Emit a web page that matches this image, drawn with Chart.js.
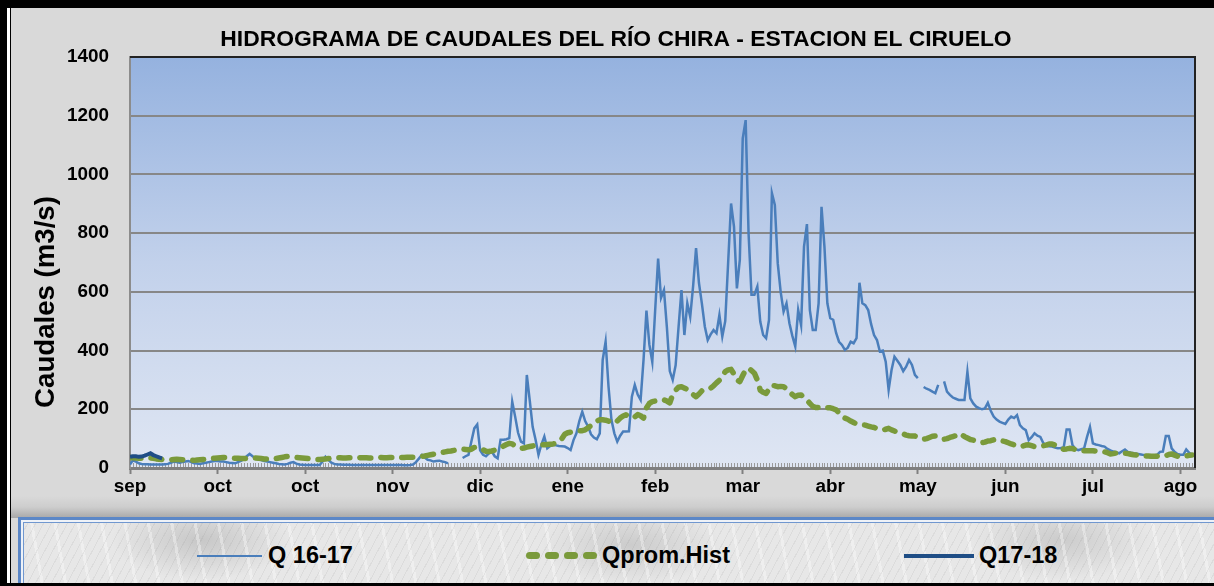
<!DOCTYPE html>
<html><head><meta charset="utf-8">
<script src="https://cdn.jsdelivr.net/npm/chart.js@4.4.1/dist/chart.umd.min.js"></script>
<style>
html,body{margin:0;padding:0;background:#000;width:1214px;height:586px;overflow:hidden;position:relative;font-family:'Liberation Sans Narrow','Liberation Sans',Arial,sans-serif;}
#white{position:absolute;left:7px;top:8px;width:4px;bottom:0;background:#fff;}
#panel{position:absolute;left:10px;top:8px;right:0;bottom:0;background:#d9d9d9;border-left:1px solid #000;}
#shadow{position:absolute;left:11px;right:0;top:496px;height:22px;background:linear-gradient(#d9d9d9,#cdcdcd 50%,#a8a8a8);}
#legend{position:absolute;left:18px;top:517px;width:1220px;height:90px;box-sizing:border-box;border:3px solid #5b87c7;
 box-shadow:inset 0 0 0 2px #eef2f8, inset 0 0 0 3px #7097cf;
 background:
 repeating-linear-gradient(118deg, rgba(120,120,120,0.10) 0 1px, rgba(255,255,255,0) 1px 7px),
 repeating-linear-gradient(80deg, rgba(255,255,255,0.35) 0 3px, rgba(255,255,255,0) 3px 23px),
 radial-gradient(ellipse 90px 40px at 180px 20px, rgba(140,140,140,.35), rgba(0,0,0,0)),
 radial-gradient(ellipse 90px 40px at 610px 25px, rgba(140,140,140,.30), rgba(0,0,0,0)),
 radial-gradient(ellipse 90px 40px at 1040px 20px, rgba(140,140,140,.30), rgba(0,0,0,0)),
 #e7e7e7;}
#bottomline{position:absolute;left:0;right:0;top:583px;height:3px;background:#000;}
canvas{position:absolute;left:0;top:0;}
.lg{position:absolute;font-weight:bold;color:#000;white-space:nowrap;line-height:1;}
.sm{position:absolute;}
.dash{position:absolute;top:552px;width:14px;height:7px;border-radius:3.5px;background:#7a9a3b;}
</style></head>
<body>
<div id="white"></div>
<div id="panel"></div>
<div id="shadow"></div>
<div id="legend"></div>
<div class="sm" style="left:197px;top:555px;width:65px;height:2px;background:#4a7ebb"></div>
<span class="lg" id="l1" style="left:268px;">Q 16-17</span>
<div class="dash" style="left:526px"></div>
<div class="dash" style="left:545px"></div>
<div class="dash" style="left:564px"></div>
<div class="dash" style="left:583px"></div>
<span class="lg" id="l2" style="left:602px;">Qprom.Hist</span>
<div class="sm" style="left:904px;top:554px;width:70px;height:4px;background:#1f4e86"></div>
<span class="lg" id="l3" style="left:979px;">Q17-18</span>
<div id="bottomline"></div>
<canvas id="c" width="1214" height="515"></canvas>
<script>
const tickLabels = ['sep','oct','oct','nov','dic','ene','feb','mar','abr','may','jun','jul','ago'];
const titleText = 'HIDROGRAMA DE CAUDALES DEL RÍO CHIRA - ESTACION EL CIRUELO';
const yTitle = 'Caudales (m3/s)';
const q1617 = [
12,26,22,16,14,13,13,12,12,12,
12,12,13,14,18,22,20,18,20,22,
24,20,16,15,14,16,18,20,22,24,
24,22,22,20,18,17,16,20,24,30,
40,48,40,34,30,27,24,22,20,18,
16,14,13,12,14,18,20,15,12,11,
10,10,10,10,10,10,22,38,28,18,
14,12,12,11,11,11,10,10,10,10,
10,10,10,10,10,10,10,10,10,10,
10,10,10,10,9,9,10,12,20,32,
44,36,28,26,22,24,25,22,20,16,
null,null,null,null,34,40,45,90,135,148,
60,45,40,50,56,40,33,96,96,98,
102,226,175,120,90,84,317,230,140,96,
45,80,107,67,75,79,77,75,74,73,
68,61,95,118,160,192,160,141,115,104,
98,118,368,430,277,164,118,90,110,124,
124,125,243,283,250,232,368,536,420,361,
540,713,580,606,480,330,300,350,480,606,
453,561,515,620,749,630,560,482,436,455,
470,459,521,448,500,700,901,822,612,709,
1123,1185,799,590,590,618,499,453,442,504,
936,896,697,600,533,561,493,450,414,538,
487,754,831,538,470,470,561,890,754,561,
510,505,460,430,419,402,410,430,425,442,
631,561,555,538,490,453,436,397,400,362,
266,334,379,365,351,330,345,368,351,317,
306,null,276,270,266,260,255,283,null,295,
260,249,240,236,232,232,232,328,237,220,
209,204,200,203,222,195,175,165,158,154,
150,165,175,170,180,146,135,129,95,105,
118,110,106,85,76,74,73,70,67,68,
70,131,131,78,65,61,64,67,106,140,
84,80,78,75,73,65,60,56,53,50,
57,63,55,52,50,49,47,45,44,43,
42,43,45,55,56,109,109,67,55,48,
45,45,63,52,45];
const qpromHist = [
36,35,34,33,33,32,33,34,33,31,
30,29,29,28,28,29,30,29,28,27,
27,27,26,27,28,29,30,32,33,33,
34,35,36,36,35,34,33,33,32,32,
33,34,35,34,33,32,31,31,30,31,
32,34,36,38,39,38,37,36,35,34,
33,32,31,30,29,29,30,31,32,33,
34,35,35,34,34,35,35,34,34,35,
35,35,34,34,35,35,36,35,35,36,
36,35,35,36,36,37,37,37,38,39,
40,41,43,45,47,49,51,53,55,57,
58,60,62,64,64,63,62,64,70,72,
68,62,57,56,58,61,63,68,75,80,
84,82,76,70,67,68,71,73,75,77,
79,79,79,80,81,82,84,90,100,115,
120,122,124,126,127,127,130,137,145,152,
160,164,164,163,160,156,152,160,170,177,
181,176,170,174,182,178,170,205,220,226,
228,230,232,232,228,222,250,265,275,277,
272,268,262,250,243,252,263,268,271,272,
280,290,299,312,328,334,336,320,300,294,
315,335,340,332,323,300,265,258,254,268,
282,280,277,278,277,270,260,250,243,248,
249,240,232,220,210,206,206,207,207,205,
205,202,198,188,175,170,166,160,155,150,
148,147,146,143,140,138,135,132,129,132,
135,130,126,122,120,116,112,110,109,109,
106,102,98,100,104,108,109,104,99,98,
100,104,107,110,118,114,107,102,97,95,
92,89,86,88,92,93,96,98,95,92,
90,86,82,79,75,73,75,78,79,76,
73,74,75,76,78,82,82,78,73,68,
64,65,67,66,63,61,59,59,59,59,
59,58,57,56,55,52,48,49,51,52,
51,50,49,47,45,44,43,42,41,41,
40,40,40,39,39,42,46,48,44,40,
37,38,41,43,44];
const q1718 = [38,40,40,38,39,42,46,50,44,40,36,33];
const nDays = 365;

const FAM = "'Liberation Sans Narrow','Liberation Sans',Arial,sans-serif";
const mctx = document.createElement('canvas').getContext('2d');
function fit(text, target){ mctx.font = 'bold 100px ' + FAM; return 100 * target / mctx.measureText(text).width; }
const titleSize = fit(titleText, 792);
const tickSize = fit('1400', 42);
const yTitleSize = fit(yTitle, 212);
const legSize = fit('Qprom.Hist', 128);
['l1','l2','l3'].forEach(id => { const e = document.getElementById(id); e.style.fontSize = legSize + 'px'; e.style.top = (556 - legSize*0.5) + 'px'; });

const mk = arr => arr.map((v, i) => ({x: i, y: v}));

const deco = {
  id: 'deco',
  beforeDraw(chart) {
    const {ctx, chartArea: a} = chart;
    const g = ctx.createLinearGradient(0, a.top, 0, a.bottom);
    g.addColorStop(0, '#95b2df');
    g.addColorStop(0.5, '#c2d1eb');
    g.addColorStop(1, '#dfe6f3');
    ctx.save(); ctx.fillStyle = g; ctx.fillRect(a.left, a.top, a.right - a.left, a.bottom - a.top); ctx.restore();
  },
  beforeDatasetsDraw(chart) {
    const {ctx, chartArea: a, scales: {x}} = chart;
    ctx.save(); ctx.strokeStyle = '#9a9a9a'; ctx.lineWidth = 1;
    ctx.beginPath();
    for (let i = 0; i <= nDays; i++) {
      const px = Math.round(x.getPixelForValue(i)) + 0.5;
      ctx.moveTo(px, a.bottom - 5); ctx.lineTo(px, a.bottom - 1);
    }
    ctx.stroke(); ctx.restore();
  },
  afterDatasetsDraw(chart) {
    const {ctx, chartArea: a} = chart;
    ctx.save(); ctx.strokeStyle = '#222'; ctx.lineWidth = 2;
    ctx.beginPath(); ctx.moveTo(a.left, a.top); ctx.lineTo(a.right, a.top); ctx.lineTo(a.right, a.bottom); ctx.stroke();
    ctx.restore();
  },
  afterDraw(chart) {
    const ctx = chart.ctx;
    ctx.save(); ctx.translate(46, 302); ctx.rotate(-Math.PI / 2);
    ctx.font = 'bold ' + yTitleSize + 'px ' + FAM; ctx.fillStyle = '#000';
    ctx.textAlign = 'center'; ctx.textBaseline = 'middle';
    ctx.fillText(yTitle, 0, 0); ctx.restore();
  }
};

new Chart(document.getElementById('c'), {
  type: 'line',
  data: { datasets: [
    {label: 'Q 16-17', data: mk(q1617), borderColor: '#4a7ebb', borderWidth: 2.5, pointRadius: 0, tension: 0, order: 2, spanGaps: false},
    {label: 'Qprom.Hist', data: mk(qpromHist), borderColor: '#7a9a3b', borderWidth: 5.5, borderDash: [11, 10], borderCapStyle: 'round', borderJoinStyle: 'round', pointRadius: 0, tension: 0, order: 1},
    {label: 'Q17-18', data: mk(q1718), borderColor: '#1f4e86', borderWidth: 4, pointRadius: 0, tension: 0, order: 0}
  ]},
  options: {
    responsive: false, animation: false, devicePixelRatio: 1,
    layout: {padding: {top: 8, left: 37, right: 19, bottom: 0}},
    plugins: {
      legend: {display: false}, tooltip: {enabled: false},
      title: {display: true, text: titleText, color: '#000',
        font: {family: FAM, size: titleSize, weight: 'bold', lineHeight: 1.2},
        padding: {top: 32 - 0.6 * titleSize, bottom: 17 - 0.6 * titleSize}}
    },
    scales: {
      x: {type: 'linear', min: 0, max: nDays,
        afterBuildTicks: s => { s.ticks = tickLabels.map((t, k) => ({value: k * 30})); },
        afterFit: s => { s.height = 47; },
        ticks: {autoSkip: false, maxRotation: 0, padding: 1, color: '#000',
          font: {family: FAM, size: tickSize, weight: 'bold', lineHeight: 1.2},
          callback: (v, i) => tickLabels[i]},
        grid: {drawOnChartArea: false, drawTicks: true, tickLength: 6, tickWidth: 2, tickColor: '#808080'},
        border: {color: '#7f7f7f', width: 3}
      },
      y: {min: 0, max: 1400,
        afterFit: s => { s.width = 93; },
        ticks: {stepSize: 200, padding: 21, color: '#000', font: {family: FAM, size: tickSize, weight: 'bold'},
          callback: v => String(v)},
        grid: {drawTicks: false, lineWidth: 2,
          color: c => (c.tick && (c.tick.value === 0 || c.tick.value === 1400)) ? 'rgba(0,0,0,0)' : '#878787'},
        border: {color: '#8c8c8c', width: 2}
      }
    }
  },
  plugins: [deco]
});
</script>
</body></html>
